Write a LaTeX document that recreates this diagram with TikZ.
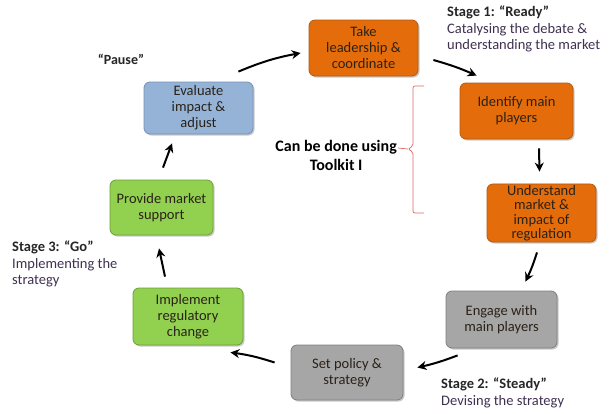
\documentclass[tikz,border=0pt]{standalone}
\usepackage{fontspec}
\setmainfont{Carlito}
\usetikzlibrary{calc,arrows.meta,shadows}
\definecolor{orfill}{HTML}{E46C0A}
\definecolor{ordraw}{HTML}{B45A10}
\definecolor{blfill}{HTML}{95B3D7}
\definecolor{bldraw}{HTML}{7590B5}
\definecolor{grfill}{HTML}{92D050}
\definecolor{grdraw}{HTML}{6E9E35}
\definecolor{gyfill}{HTML}{A6A6A6}
\definecolor{gydraw}{HTML}{7F7F7F}
\definecolor{boxtext}{HTML}{2A2218}
\definecolor{stagetext}{HTML}{403152}
\definecolor{brace}{HTML}{E06666}
\tikzset{
  box/.style={rounded corners=6pt, line width=0.8pt, align=center, text=boxtext,
    font=\fontsize{14.5}{16}\selectfont, inner sep=1pt,
    drop shadow={shadow xshift=1.5pt, shadow yshift=-1.5pt, fill=black!35, opacity=0.6}},
  orbox/.style={box, fill=orfill, draw=ordraw},
  blbox/.style={box, fill=blfill, draw=bldraw},
  grbox/.style={box, fill=grfill, draw=grdraw},
  gybox/.style={box, fill=gyfill, draw=gydraw},
  arr/.style={-{Stealth[length=9pt,width=9pt]}, line width=2pt, black},
  stage/.style={align=left, anchor=north west, inner sep=0pt, text=stagetext,
    font=\fontsize{14.5}{16.5}\selectfont},
}
\begin{document}
\begin{tikzpicture}[x=1pt,y=-1pt]
\useasboundingbox[fill=white] (0,0) rectangle (610,413);
% boxes
\node[orbox, minimum width=109pt, minimum height=56pt] (take) at (363.5,48) {Take\\leadership \&\\coordinate};
\node[orbox, minimum width=113pt, minimum height=56pt] (ident) at (516.5,111) {Identify main\\players};
\node[orbox, minimum width=109pt, minimum height=58pt, font=\fontsize{14.5}{14.5}\selectfont] (under) at (541.5,213) {Understand\\market \&\\impact of\\regulation};
\node[gybox, minimum width=111pt, minimum height=57pt] (engage) at (501.5,319.5) {Engage with\\main players};
\node[gybox, minimum width=112pt, minimum height=55pt] (setpol) at (347,372.5) {Set policy \&\\strategy};
\node[grbox, minimum width=110pt, minimum height=57pt] (impl) at (188,316.5) {Implement\\regulatory\\change};
\node[grbox, minimum width=103pt, minimum height=55pt] (provide) at (161.5,207.5) {Provide market\\support};
\node[blbox, minimum width=109pt, minimum height=52pt] (eval) at (198.5,108) {Evaluate\\impact \&\\adjust};
% arrows
\draw[arr] ($(eval.north east)+(-15,-10)$) to[bend left=6] ($(take.west)+(-8,5)$);
\draw[arr] ($(take.east)+(15,12)$) to[bend left=4] ($(ident.north west)+(17,-7)$);
\draw[arr] ($(ident.south)+(22.5,9)$) -- ($(under.north)+(-2,-12)$);
\draw[arr] ($(under.south)+(-4.5,10)$) to[bend left=4] ($(engage.north east)+(-32,-9)$);
\draw[arr] ($(engage.south west)+(12,7)$) to[bend left=4] ($(setpol.east)+(14,-5)$);
\draw[arr] ($(setpol.west)+(-16,-10)$) to[bend right=5] ($(impl.south east)+(-13,7)$);
\draw[arr] ($(impl.north)+(-23,-11)$) -- ($(provide.south)+(-2.5,13)$);
\draw[arr] ($(provide.north)+(1.5,-12)$) -- ($(eval.south)+(-26.5,9)$);
% brace and label
\coordinate (btop) at (424,86);
\coordinate (btip) at (408,149);
\coordinate (bbot) at (424,213);
\draw[brace, line width=0.7pt, rounded corners=2pt] (btop) -- (413,86) -- (413,146) -- (btip) -- (413,152) -- (413,213) -- (bbot);
\node[font=\bfseries\fontsize{16}{18}\selectfont, anchor=east, inner sep=0pt] (can) at (397,147) {Can be done using};
\node[font=\bfseries\fontsize{16}{18}\selectfont, anchor=center, inner sep=0pt] (toolkit) at ($(can.center)+(0,18)$) {Toolkit I};
\draw[brace, line width=0.7pt] ($(can.east)+(1,1)$) -- (btip);
% stage labels
\node[stage] (s1) at (447,6) {\textbf{\color{black!85}Stage 1: “Ready”}\\Catalysing the debate \&\\understanding the market};
\node[stage] (s2) at (441,378) {\textbf{\color{black!85}Stage 2: “Steady”}\\Devising the strategy};
\node[stage] (s3) at (12,241) {\textbf{\color{black!85}Stage 3: “Go”}\\Implementing the\\strategy};
\node[font=\bfseries\fontsize{14}{16}\selectfont, text=black!85] (pause) at (121,59) {“Pause”};
\end{tikzpicture}
\end{document}
